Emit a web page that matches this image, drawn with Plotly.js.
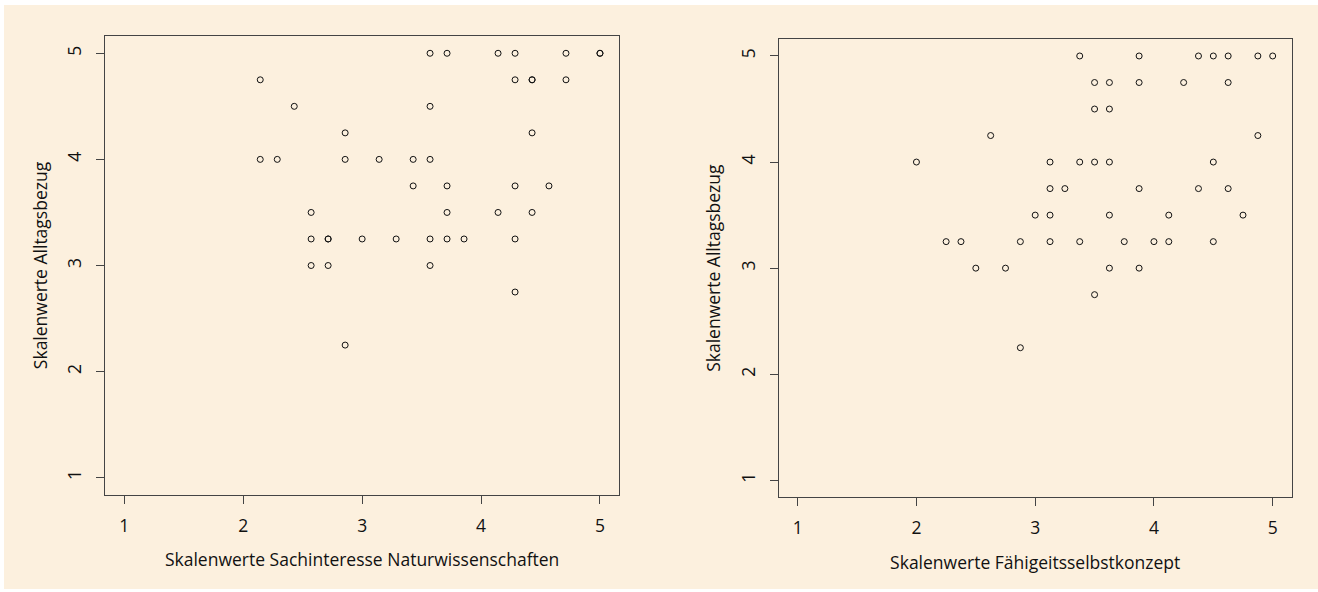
<!DOCTYPE html>
<html>
<head>
<meta charset="utf-8">
<script src="https://cdn.plot.ly/plotly-3.0.1.min.js"></script>
<style>
  html, body { margin: 0; padding: 0; background: #ffffff; }
  #chart { width: 1318px; height: 592px; }
</style>
</head>
<body>
<div id="chart"></div>
<script>
// Sachinteresse Naturwissenschaften vs. Alltagsbezug
const interestX = [
  2.143, 2.429, 2.857, 2.143, 2.286, 2.857, 2.571, 2.571, 2.714, 2.714, 3.0, 2.571, 2.714, 2.857,
  3.571, 3.714, 4.143, 4.286, 4.714, 5.0, 5.0,
  4.286, 4.429, 4.429, 4.714,
  3.571, 4.429,
  3.143, 3.429, 3.571,
  3.429, 3.714, 4.286, 4.571,
  3.714, 4.143, 4.429,
  3.286, 3.571, 3.714, 3.857, 4.286,
  3.571, 4.286
];
const interestY = [
  4.75, 4.5, 4.25, 4.0, 4.0, 4.0, 3.5, 3.25, 3.25, 3.25, 3.25, 3.0, 3.0, 2.25,
  5.0, 5.0, 5.0, 5.0, 5.0, 5.0, 5.0,
  4.75, 4.75, 4.75, 4.75,
  4.5, 4.25,
  4.0, 4.0, 4.0,
  3.75, 3.75, 3.75, 3.75,
  3.5, 3.5, 3.5,
  3.25, 3.25, 3.25, 3.25, 3.25,
  3.0, 2.75
];

// Fähigkeitsselbstkonzept vs. Alltagsbezug
const conceptX = [
  2.0, 2.625, 2.25, 2.375, 2.875, 2.5, 2.75, 2.875,
  3.375, 3.875, 4.375, 4.5, 4.625, 4.875, 5.0,
  3.5, 3.625, 3.875, 4.25, 4.625,
  3.5, 3.625,
  4.875,
  3.125, 3.375, 3.5, 3.625, 4.5,
  3.125, 3.25, 3.875, 4.375, 4.625,
  3.0, 3.125, 3.625, 4.125, 4.75,
  3.125, 3.375, 3.75, 4.0, 4.125, 4.5,
  3.625, 3.875,
  3.5
];
const conceptY = [
  4.0, 4.25, 3.25, 3.25, 3.25, 3.0, 3.0, 2.25,
  5.0, 5.0, 5.0, 5.0, 5.0, 5.0, 5.0,
  4.75, 4.75, 4.75, 4.75, 4.75,
  4.5, 4.5,
  4.25,
  4.0, 4.0, 4.0, 4.0, 4.0,
  3.75, 3.75, 3.75, 3.75, 3.75,
  3.5, 3.5, 3.5, 3.5, 3.5,
  3.25, 3.25, 3.25, 3.25, 3.25, 3.25,
  3.0, 3.0,
  2.75
];

const tickValues = [1, 2, 3, 4, 5];
const tickLabels = ['1', '2', '3', '4', '5'];
const titleLeftX = 'Skalenwerte Sachinteresse Naturwissenschaften';
const titleRightX = 'Skalenwerte Fähigeitsselbstkonzept';
const titleY = 'Skalenwerte Alltagsbezug';

const FONT = 'Open Sans, Noto Sans, sans-serif';
const INK = '#111111';
const FS = 17.5;
const W = 1318, H = 592;

const marker = {
  symbol: 'circle-open',
  size: 6,
  color: '#111111',
  line: { width: 1, color: '#111111' }
};

const traces = [
  { type: 'scatter', mode: 'markers', x: interestX, y: interestY,
    xaxis: 'x', yaxis: 'y', marker: marker, hoverinfo: 'x+y' },
  { type: 'scatter', mode: 'markers', x: conceptX, y: conceptY,
    xaxis: 'x2', yaxis: 'y2', marker: marker, hoverinfo: 'x+y' }
];

function xAxis(domain, title, anchor) {
  return {
    domain: domain, anchor: anchor, range: [0.84, 5.16],
    tickmode: 'array', tickvals: tickValues, ticktext: tickLabels,
    ticks: 'outside', ticklen: 8, tickwidth: 1, tickcolor: '#444',
    ticklabelstandoff: 7,
    showline: true, mirror: true, linecolor: '#444', linewidth: 1,
    showgrid: false, zeroline: false, automargin: false,
    tickfont: { family: FONT, size: FS, color: INK },
    title: { text: title, standoff: 18, font: { family: FONT, size: FS, color: INK } }
  };
}
function yAxis(domain, anchor) {
  return {
    domain: domain, anchor: anchor, range: [0.84, 5.16],
    tickmode: 'array', tickvals: tickValues, ticktext: tickLabels,
    tickangle: -90,
    ticks: 'outside', ticklen: 8, tickwidth: 1, tickcolor: '#444',
    ticklabelstandoff: 8,
    showline: true, mirror: true, linecolor: '#444', linewidth: 1,
    showgrid: false, zeroline: false, automargin: false,
    tickfont: { family: FONT, size: FS, color: INK },
    title: { text: titleY, standoff: 10, font: { family: FONT, size: FS, color: INK } }
  };
}

const layout = {
  width: W, height: H,
  margin: { l: 0, r: 0, t: 0, b: 0, pad: 0 },
  paper_bgcolor: '#ffffff',
  plot_bgcolor: 'rgba(0,0,0,0)',
  showlegend: false,
  font: { family: FONT, color: INK },
  xaxis: xAxis([105.3 / W, 619 / W], titleLeftX, 'y'),
  yaxis: yAxis([1 - 494.7 / H, 1 - 36.3 / H], 'x'),
  xaxis2: xAxis([778.7 / W, 1291.7 / W], titleRightX, 'y2'),
  yaxis2: yAxis([1 - 497.3 / H, 1 - 39 / H], 'x2'),
  shapes: [{
    type: 'rect', xref: 'paper', yref: 'paper', layer: 'below',
    x0: 4 / W, x1: 1, y0: 1 - 589 / H, y1: 1 - 5 / H,
    fillcolor: '#fcf0de', line: { width: 0 }
  }]
};

Plotly.newPlot('chart', traces, layout, { displayModeBar: false, staticPlot: true });
</script>
</body>
</html>
